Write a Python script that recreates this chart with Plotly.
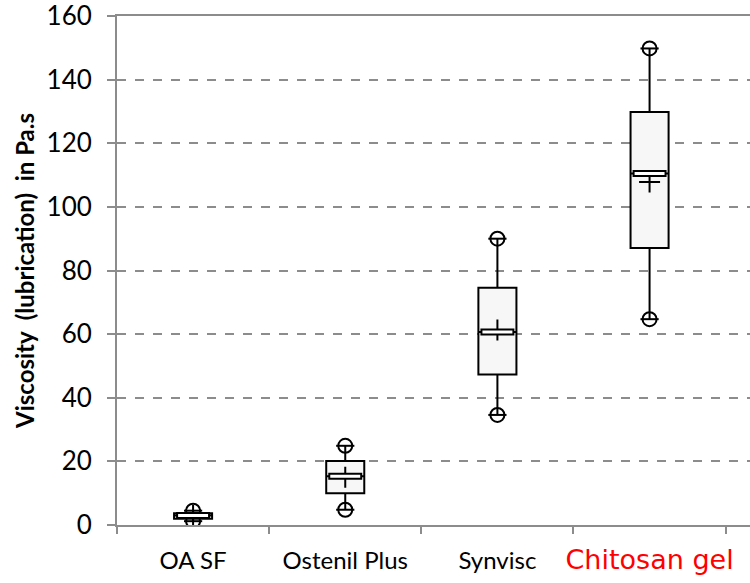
import plotly.graph_objects as go

categories = ["OA SF", "Ostenil Plus", "Synvisc", "Chitosan gel"]
q1 = [2.0, 10.0, 47.3, 87.1]
median = [3.0, 15.3, 60.7, 110.5]
q3 = [3.7, 20.1, 74.6, 129.8]
mins = [1.2, 4.8, 34.6, 64.7]
maxs = [4.5, 24.9, 90.0, 149.8]
means = [3.0, 15.0, 61.3, 107.8]
label_colors = ["black", "black", "black", "red"]
y_ticks = [0, 20, 40, 60, 80, 100, 120, 140, 160]

FONT = "Lato"
fig = go.Figure()

fig.add_trace(go.Box(
    x=categories, q1=q1, median=median, q3=q3,
    lowerfence=mins, upperfence=maxs,
    fillcolor="#f7f7f7", line=dict(color="black", width=2),
    width=0.25, whiskerwidth=0, boxpoints=False, showlegend=False,
    hoverinfo="skip",
))

# whisker end circles
fig.add_trace(go.Scatter(
    x=categories + categories, y=mins + maxs, mode="markers",
    marker=dict(symbol="circle-open", size=14, color="black", line=dict(width=2)),
    showlegend=False, hoverinfo="skip",
))
fig.add_trace(go.Scatter(
    x=categories + categories, y=mins + maxs, mode="markers",
    marker=dict(symbol="line-ew", size=13, color="black", line=dict(width=2, color="black")),
    showlegend=False, hoverinfo="skip",
))

# median rectangles
for i, m in enumerate(median):
    fig.add_shape(type="rect", xref="x", yref="y", ysizemode="pixel", yanchor=m,
                  x0=i - 0.105, x1=i + 0.105, y0=-2.5, y1=2.5,
                  fillcolor="white", line=dict(color="black", width=2), layer="above")

# means
fig.add_trace(go.Scatter(
    x=categories, y=means, mode="markers",
    marker=dict(symbol="cross-thin-open", size=15, color="black", line=dict(width=2, color="black")),
    showlegend=False, hoverinfo="skip",
))

ticktext = [t if c == "black" else
            f"<span style='color:{c};font-family:DejaVu Sans;font-size:27px'>{t}</span>"
            for t, c in zip(categories, label_colors)]

fig.update_layout(
    width=750, height=583,
    margin=dict(l=117, r=0, t=16, b=58),
    plot_bgcolor="white", paper_bgcolor="white",
    font=dict(family=FONT, size=19, color="black"),
    xaxis=dict(
        type="category", categoryorder="array", categoryarray=categories,
        range=[-0.5, 3.66], tickmode="array", tickvals=categories, ticktext=ticktext,
        tickson="boundaries", ticks="outside", ticklen=7, tickwidth=2, tickcolor="#8c8c8c",
        showline=True, linecolor="#8c8c8c", linewidth=2, mirror=True,
        showgrid=False, tickfont=dict(size=24, family=FONT, color="black"), fixedrange=True,
        ticklabelstandoff=13, tickangle=0, automargin=False, ticklabeloverflow="allow",
    ),
    yaxis=dict(
        range=[0, 160], tickvals=y_ticks, ticks="outside", ticklen=8, tickwidth=2,
        tickcolor="#8c8c8c", showline=True, linecolor="#8c8c8c", linewidth=2,
        showgrid=True, gridcolor="#8c8c8c", griddash="dash", gridwidth=2,
        zeroline=False, tickfont=dict(size=26, family=FONT),
        ticklabelstandoff=10, automargin=False, ticklabeloverflow="allow",
        title=dict(text="<b>Viscosity  (lubrication)  in Pa.s</b>", font=dict(size=24, family=FONT), standoff=5),
    ),
)

fig.write_html("out.html")
